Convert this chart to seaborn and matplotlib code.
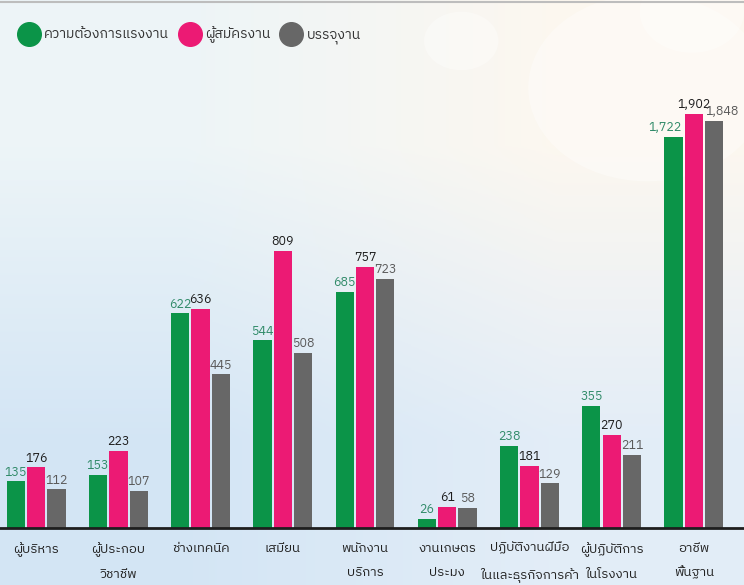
"""
Labour market by occupation: demand, applicants and placements (grouped bars).
"""
import numpy as np
import pandas as pd
import matplotlib
matplotlib.use('Agg')
import matplotlib.pyplot as plt
import seaborn as sns
from matplotlib import font_manager
from matplotlib.ft2font import FT2Font
from matplotlib.lines import Line2D

# 1. Data
categories = ['ผู้บริหาร', 'ผู้ประกอบ\nวิชาชีพ', 'ช่างเทคนิค', 'เสมียน', 'พนักงาน\nบริการ',
              'งานเกษตร\nประมง', 'ปฏิบัติงานฝีมือ\nในและธุรกิจการค้า', 'ผู้ปฏิบัติการ\nในโรงงาน',
              'อาชีพ\nพื้นฐาน']
series = ['ความต้องการแรงงาน', 'ผู้สมัครงาน', 'บรรจุงาน']
demand = [135, 153, 622, 544, 685, 26, 238, 355, 1722]
applicants = [176, 223, 636, 809, 757, 61, 181, 270, 1902]
placed = [112, 107, 445, 508, 723, 58, 129, 211, 1848]

bar_colors = ['#0b9448', '#ec1a74', '#676767']
label_colors = ['#2f8a68', '#1c1c1c', '#5a5a5a']

# 2. Pick a font that can draw Thai
thai_font = 'DejaVu Sans'
for f in sorted(font_manager.fontManager.ttflist, key=lambda f: ('Sans' not in f.name, f.name)):
    try:
        if 0x0E01 in FT2Font(f.fname).get_charmap():
            thai_font = f.name
            break
    except Exception:
        pass
plt.rcParams['font.family'] = [thai_font, 'DejaVu Sans']

df = pd.DataFrame({
    'category': categories * 3,
    'series': [s for s in series for _ in categories],
    'value': demand + applicants + placed,
})

# 3. Axis scale: the top group is compressed in the original
def fwd(v):
    v = np.asarray(v, dtype=float)
    return np.where(v <= 800, 0.345 * v, 276 + 0.125 * (v - 800))

def inv(y):
    y = np.asarray(y, dtype=float)
    return np.where(y <= 276, y / 0.345, 800 + (y - 276) / 0.125)

# 4. Figure
fig = plt.figure(figsize=(7.44, 5.85), dpi=100)

bg = fig.add_axes([0, 0, 1, 1], zorder=-10)
grad = np.array([[[0.93, 0.96, 0.97], [0.99, 0.97, 0.94]],
                 [[0.83, 0.90, 0.96], [0.89, 0.93, 0.97]]])
bg.imshow(grad, extent=[0, 1, 0, 1], aspect='auto', interpolation='bilinear')
for cx, cy, r in [(0.62, 0.93, 0.05), (0.93, 0.98, 0.07), (0.87, 0.85, 0.16)]:
    bg.add_patch(plt.Circle((cx, cy), r, color='white', alpha=0.35, lw=0))
bg.axhline(0.996, color='#bdbdbd', lw=1.5)
bg.set_xlim(0, 1)
bg.set_ylim(0, 1)
bg.axis('off')

ax = fig.add_axes([0, 57 / 585, 1, 468 / 585])
ax.set_facecolor('none')
ax.set_yscale('function', functions=(fwd, inv))

sns.barplot(data=df, x='category', y='value', hue='series', hue_order=series,
            palette=bar_colors, width=0.74, gap=0.1, saturation=1, legend=False, ax=ax)

# value labels; in the last group the outer labels are pushed sideways
nudge = [-6, 0, 6]
for i, (cont, vals, col) in enumerate(zip(ax.containers, [demand, applicants, placed], label_colors)):
    anns = ax.bar_label(cont, labels=[f'{v:,}' for v in vals], color=col, fontsize=9, padding=2)
    anns[-1].xyann = (nudge[i], 2)

ax.set_xlim(-0.44, 8.61)
ax.set_ylim(0, float(inv(468)))
ax.set_xlabel('')
ax.set_ylabel('')
ax.set_yticks([])
ax.tick_params(axis='x', length=0, pad=10, labelsize=9.5, labelcolor='#222222')
for lbl in ax.get_xticklabels():
    lbl.set_linespacing(2.1)
for side in ['top', 'left', 'right']:
    ax.spines[side].set_visible(False)
ax.spines['bottom'].set_color('#1e1e1e')
ax.spines['bottom'].set_linewidth(2)

# 5. Legend with round markers
handles = [Line2D([], [], marker='o', ls='', markersize=17, color=c) for c in bar_colors]
fig.legend(handles, series, loc='upper left', bbox_to_anchor=(8 / 744, 1 - 14 / 585),
           ncol=3, frameon=False, fontsize=10, handletextpad=0.5, columnspacing=0.9,
           handlelength=1.2, labelcolor='#333333')

plt.savefig('out.png', dpi=100)
